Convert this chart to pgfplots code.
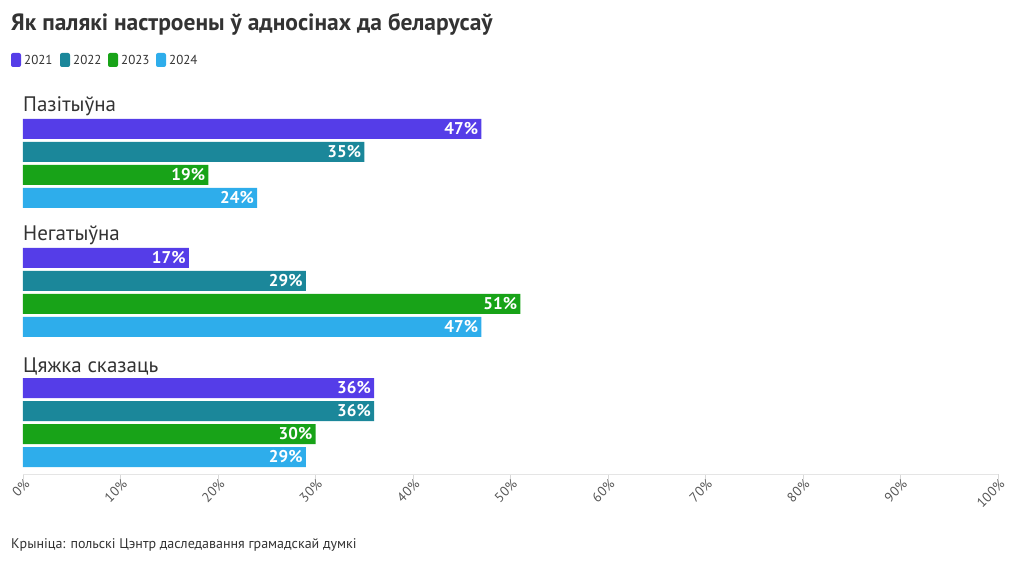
\documentclass[border=0pt]{standalone}
\usepackage{pgfplots}
\pgfplotsset{compat=1.18}
\usepackage{fontspec}
\setmainfont{PT Sans}
\definecolor{c21}{HTML}{553DE8}
\definecolor{c22}{HTML}{1B879A}
\definecolor{c23}{HTML}{18A318}
\definecolor{c24}{HTML}{2EADEB}
\definecolor{txt}{HTML}{333333}
\definecolor{tick}{HTML}{555555}
\begin{document}
\begin{tikzpicture}[x=1pt,y=1pt]
\path[use as bounding box] (0,0) rectangle (1020,564);
\begin{axis}[
  at={(23pt,90pt)}, anchor=south west,
  scale only axis, width=975pt, height=379pt,
  xmin=0, xmax=100, ymin=95, ymax=474, y dir=reverse,
  xbar, bar width=20, bar shift=0pt,
  axis x line*=bottom, axis y line=none,
  x axis line style={draw=black!10, line width=0.8pt},
  xtick={0,10,...,100}, xtick pos=bottom,
  xticklabels={0\%,10\%,20\%,30\%,40\%,50\%,60\%,70\%,80\%,90\%,100\%},
  xtick style={draw=black!15, line width=0.8pt},
  tick align=outside, major tick length=5pt,
  xticklabel style={rotate=45, anchor=east, font=\fontsize{13.5}{14}\selectfont, text=tick, inner sep=0pt, yshift=-5pt, xshift=1pt},
  ytick=\empty,
  clip=false,
  nodes near coords={\pgfmathprintnumber{\pgfplotspointmeta}\%},
  /pgf/number format/assume math mode=true,
  point meta=x,
  nodes near coords style={anchor=east, text=white, font=\fontsize{17}{18}\selectfont\bfseries, inner sep=3pt},
]
\addplot[fill=c21, draw=none] coordinates {(47,129) (17,258) (36,388)};
\addplot[fill=c22, draw=none] coordinates {(35,152) (29,281) (36,411)};
\addplot[fill=c23, draw=none] coordinates {(19,175) (51,304) (30,434)};
\addplot[fill=c24, draw=none] coordinates {(24,198) (47,327) (29,457)};
\node[anchor=south west, inner sep=0pt, text=txt, font=\fontsize{21}{24}\selectfont] at (axis cs:0,116) {Пазітыўна};
\node[anchor=south west, inner sep=0pt, text=txt, font=\fontsize{21}{24}\selectfont] at (axis cs:0,245) {Негатыўна};
\node[anchor=south west, inner sep=0pt, text=txt, font=\fontsize{21}{24}\selectfont] at (axis cs:0,375) {Цяжка сказаць};
\end{axis}
\node[anchor=west, inner sep=0pt, text=txt, font=\fontsize{23.5}{26}\selectfont\bfseries] at (11,540) {Як палякі настроены ў адносінах да беларусаў};
\foreach \xx/\cc/\yy in {11/c21/2021, 60/c22/2022, 108/c23/2023, 156/c24/2024}{
  \fill[\cc, rounded corners=2pt] (\xx,497) rectangle ++(10,14);
  \node[anchor=west, inner sep=0pt, text=txt, font=\fontsize{13}{14}\selectfont] at (\xx+13,504) {\yy};
}
\node[anchor=west, inner sep=0pt, text=txt, font=\fontsize{14}{16}\selectfont] at (11,19) {Крыніца: польскі Цэнтр даследавання грамадскай думкі};
\end{tikzpicture}
\end{document}
